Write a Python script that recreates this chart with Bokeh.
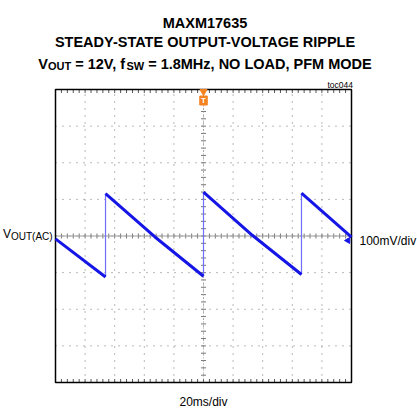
import math
from bokeh.plotting import figure
from bokeh.models import Label
from bokeh.embed import file_html
from bokeh.resources import INLINE

# ---------------- data ----------------
# time axis in ms (20 ms/div, trigger at 0), voltage in mV (100 mV/div)
ramp_t = [[-100.0, -66.2], [-66.2, -33.0, 0.0], [0.0, 33.0, 66.2], [66.2, 100.0]]
ramp_v = [[-8, -112], [116, -2, -110], [120, 2, -105], [117, -3]]
jump_t = [-66.2, 0.0, 66.2]
jump_low = [-112, -110, -105]
jump_high = [116, 120, 117]

x_div = 20          # ms per division
y_div = 100         # mV per division
n_xdiv = 10
n_ydiv = 8

title_1 = "MAXM17635"
title_2 = "STEADY-STATE OUTPUT-VOLTAGE RIPPLE"
title_3 = [("V", "main"), ("OUT", "sub"), (" = 12V, f", "main"), ("SW", "sub"),
           (" = 1.8MHz, NO LOAD, PFM MODE", "main")]
y_label = [("V", "main"), ("OUT(AC)", "sub")]
y_scale_label = "100mV/div"
x_scale_label = "20ms/div"
tag_label = "toc044"

# ---------------- layout ----------------
W, H = 417, 409
SL, SR, ST, SB = 55, 351, 89, 382          # scope screen box in pixels
xmin, xmax = -n_xdiv / 2 * x_div, n_xdiv / 2 * x_div
ymin, ymax = -n_ydiv / 2 * y_div, n_ydiv / 2 * y_div
xpp = (xmax - xmin) / (SR - SL)
ypp = (ymax - ymin) / (SB - ST)


def X(px):  # pixel -> data x
    return xmin + (px - SL) * xpp


def Y(py):  # pixel -> data y
    return ymax - (py - ST) * ypp


p = figure(width=W, height=H, x_range=(X(0), X(W)), y_range=(Y(H), Y(0)),
           output_backend="svg", toolbar_location=None,
           x_axis_location=None, y_axis_location=None,
           min_border_left=0, min_border_right=0, min_border_top=0, min_border_bottom=0)
p.grid.visible = False
p.outline_line_color = None
p.background_fill_color = "white"
p.border_fill_color = "white"

GRID = "#737373"
# dotted grid
gx = [xmin + i * x_div for i in range(1, n_xdiv)]
gy = [ymin + j * y_div for j in range(1, n_ydiv)]
p.segment(x0=gx, y0=[ymin] * len(gx), x1=gx, y1=[ymax] * len(gx),
          line_color=GRID, line_width=1, line_dash="1 6")
p.segment(x0=[xmin] * len(gy), y0=gy, x1=[xmax] * len(gy), y1=gy,
          line_color=GRID, line_width=1, line_dash="1 6")

# minor ticks: top/bottom border and centre axes
mx = [xmin + k * x_div / 5 for k in range(1, n_xdiv * 5)]
my = [ymin + k * y_div / 5 for k in range(1, n_ydiv * 5)]
tl = 3.5
p.segment(x0=mx, y0=[ymax] * len(mx), x1=mx, y1=[ymax - tl * ypp] * len(mx),
          line_color="#555555", line_width=1)
p.segment(x0=mx, y0=[ymin] * len(mx), x1=mx, y1=[ymin + tl * ypp] * len(mx),
          line_color="#555555", line_width=1)
ct = 2.5
p.segment(x0=mx, y0=[-ct * ypp] * len(mx), x1=mx, y1=[ct * ypp] * len(mx),
          line_color="#777777", line_width=1)
p.segment(x0=[-ct * xpp] * len(my), y0=my, x1=[ct * xpp] * len(my), y1=my,
          line_color="#777777", line_width=1)
p.segment(x0=[xmin], y0=[0], x1=[xmax], y1=[0], line_color="#9a9a9a", line_width=1)
p.segment(x0=[0], y0=[ymin], x1=[0], y1=[ymax], line_color="#9a9a9a", line_width=1,
          line_dash="1 2")

# scope frame
p.quad(left=[xmin], right=[xmax], bottom=[ymin], top=[ymax],
       fill_color=None, line_color="black", line_width=1.5)

# waveform
p.segment(x0=jump_t, y0=jump_low, x1=jump_t, y1=jump_high,
          line_color="#6f6fff", line_width=1.2)
p.multi_line(xs=ramp_t, ys=ramp_v, line_color="#1515e6", line_width=3)

# trigger marker
ORANGE = "#f58220"
p.scatter(x=[0], y=[Y(91.0)], marker="inverted_triangle", size=7,
          fill_color=ORANGE, line_color=ORANGE)
p.rect(x=[0], y=[Y(100.0)], width=7.5 * xpp, height=9 * ypp,
       fill_color=ORANGE, line_color=ORANGE)
p.add_layout(Label(x=0, y=Y(100.0), text="T", text_color="white", text_font_size="8px",
                   text_font="Liberation Sans", text_font_style="bold",
                   text_align="center", text_baseline="middle"))
# ground marker
p.scatter(x=[X(347.5)], y=[Y(240.0)], marker="triangle", angle=math.pi / 2, size=6,
          fill_color="#1515e6", line_color="#1515e6")

# ---------------- texts ----------------
BOLD_W = {' ': 278, '=': 584, '1': 556, '2': 556, '.': 278, '8': 556, ',': 278, 'V': 667,
          'M': 833, 'H': 722, 'z': 500, 'N': 722, 'O': 778, 'L': 611, 'A': 722, 'D': 722,
          'P': 667, 'F': 611, 'E': 667, 'f': 333, 'U': 722, 'T': 611, 'S': 667, 'W': 944}
REG_W = {' ': 278, 'V': 667, 'O': 778, 'U': 722, 'T': 611, '(': 333, ')': 333, 'A': 667,
         'C': 722}


def tw(s, size, table):
    return sum(table.get(c, 556) for c in s) * size / 1000.0


def lab(x, y, text, size, bold=False, align="left", baseline="alphabetic", color="black"):
    p.add_layout(Label(x=x, y=y, text=text, text_font="Liberation Sans",
                       text_font_size=f"{size}px", text_font_style="bold" if bold else "normal",
                       text_align=align, text_baseline=baseline, text_color=color))


def rich(pieces, x_left_px, base_px, main_size, sub_size, sub_drop, bold, table):
    x = x_left_px
    for s, kind in pieces:
        size = main_size if kind == "main" else sub_size
        base = base_px if kind == "main" else base_px + sub_drop
        stripped = s.lstrip(" ")
        lead = len(s) - len(stripped)
        x += lead * table[' '] * size / 1000.0
        lab(X(x), Y(base), stripped, size, bold=bold)
        x += tw(stripped, size, table)


CX = 204.5
TS = 14.5
lab(X(CX), Y(22.5), title_1, TS, bold=True, align="center")
lab(X(CX), Y(41.5), title_2, TS, bold=True, align="center")
tot3 = sum(tw(s, TS if k == "main" else 11, BOLD_W) for s, k in title_3)
rich(title_3, CX - tot3 / 2, 63.0, TS, 11, 2.5, True, BOLD_W)

rich(y_label, 2.5, 233.0, 12, 10, 2.5, False, REG_W)
lab(X(359.0), Y(240.5), y_scale_label, 12)
lab(X(203.0), Y(401.5), x_scale_label, 12, align="center")
lab(X(352.5), Y(84.0), tag_label, 8.5, align="right")

open("out.html", "w").write(file_html(p, INLINE))
